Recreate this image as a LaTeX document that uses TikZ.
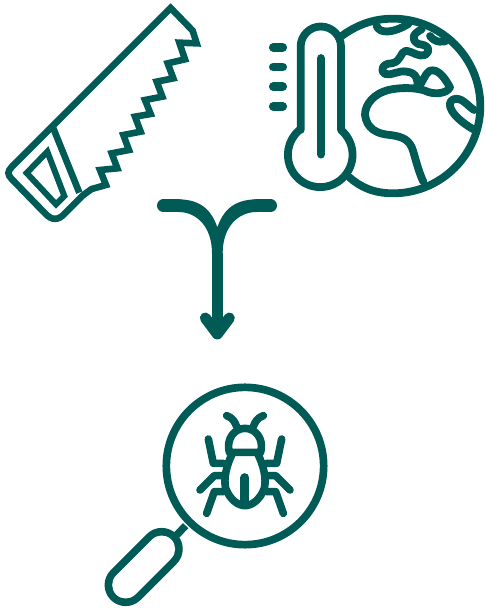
\documentclass[tikz,border=0pt]{standalone}
\definecolor{icon}{HTML}{005A55}
\tikzset{
  ink/.style={draw=icon,line cap=round,line join=round},
  saw/.style={ink,line width=6.6pt,line join=miter},
  thick7/.style={ink,line width=7.8pt},
  fine/.style={ink,line width=7.8pt},
  bug/.style={ink,line width=7.6pt},
}
\begin{document}
\begin{tikzpicture}[x=1pt,y=-1pt]
\useasboundingbox (0,0) rectangle (485,610);
% saw
\begin{scope}[x=.33333pt,y=-.33333pt]
\draw[saw,line join=miter,line cap=butt]
 (512,24) -- (578,92) -- (590,130) -- (538,128) -- (555,178) -- (503,190) -- (520,235) -- (470,245)
 -- (487,290) -- (435,300) -- (452,342) -- (405,350) -- (422,395) -- (370,405) -- (387,450) -- (335,460)
 -- (352,505) -- (300,510) -- (318,555) -- (275,567) -- (250,585)
 -- (195,640) .. controls (175,662) and (155,662) .. (135,640)
 -- (35,537) .. controls (22,523) and (22,515) .. (35,501) -- cycle;
\draw[saw,line cap=butt] (160,385) -- (238,578);
\draw[saw,line width=6pt,line join=miter] (142,455) -- (193,588) -- (168,613) -- (80,519) -- cycle;
\end{scope}
% globe and thermometer
\begin{scope}[x=.33333pt,y=-.33333pt,shift={(780,0)}]
\draw[thick7] (245,108) .. controls (290,75) and (340,56) .. (399,56)
 arc[start angle=-90,end angle=90,radius=262]
 .. controls (340,580) and (300,560) .. (268,532);
\draw[fine] (350,78) .. controls (358,100) and (395,102) .. (445,72);
\draw[fine] (485,88) .. controls (460,100) and (450,118) .. (475,132)
 .. controls (505,135) and (515,150) .. (495,165)
 .. controls (475,172) and (460,155) .. (438,152)
 .. controls (420,155) and (425,185) .. (395,190)
 .. controls (365,190) and (360,215) .. (375,222)
 .. controls (395,228) and (415,210) .. (440,215)
 .. controls (470,218) and (475,240) .. (472,262)
 .. controls (490,250) and (490,225) .. (510,212)
 .. controls (535,205) and (555,235) .. (570,262)
 .. controls (560,282) and (520,285) .. (495,272)
 .. controls (465,262) and (420,262) .. (385,270)
 .. controls (345,280) and (315,310) .. (315,345)
 .. controls (320,385) and (350,402) .. (390,405)
 .. controls (430,410) and (450,420) .. (460,455)
 .. controls (470,490) and (478,520) .. (490,545);
\draw[fine] (510,108) .. controls (525,128) and (550,130) .. (568,118);
\draw[fine] (642,330) .. controls (620,315) and (605,290) .. (580,298)
 .. controls (555,310) and (575,350) .. (640,388);
\fill[white] (183,462) circle[radius=97];
\fill[white] (122,140) rectangle (243,400);
\draw[thick7] (122,390) -- (122,140) arc[start angle=180,end angle=360,radius=60.5] -- (243,390)
 arc[start angle=-50,end angle=230,radius=97] -- cycle;
\draw[ink,line width=8.4pt] (183,175) -- (183,463);
\foreach \yy in {142,201,260,319} \draw[ink,line width=8.8pt] (40,\yy) -- (68,\yy);
\end{scope}
% merge arrow
\begin{scope}[x=.33333pt,y=-.33333pt,shift={(450,570)}]
\coordinate (la) at (40,47); \coordinate (ra) at (362,47); \coordinate (joint) at (202,190); \coordinate (tip) at (202,432);
\draw[ink,line width=12.67pt] (la) -- (85,47);
\draw[ink,line width=12.67pt] (ra) -- (320,47);
\fill[icon] (85,28) .. controls (160,28) and (188,70) .. (202,112) .. controls (216,70) and (245,28) .. (320,28)
 -- (320,66) .. controls (265,66) and (218,110) .. (218,190) -- (186,190) .. controls (186,110) and (140,66) .. (85,66) -- cycle;
\draw[ink,line width=10.6pt,line cap=butt] (joint) -- (tip);
\draw[ink,line width=11pt] (166,384) -- (tip) -- (238,384);
\end{scope}
% magnifier and beetle
\begin{scope}[x=.33333pt,y=-.33333pt,shift={(285,1125)}]
\draw[ink,line width=7.7pt] (450,273) circle[radius=236];
\draw[ink,line width=7.4pt,line cap=butt] (272,452) -- (245,480);
\draw[ink,line width=7.6pt,double=white,double distance=27pt] (200,522) -- (92,630);
\draw[bug] (395,122) .. controls (412,128) and (420,140) .. (425,155);
\draw[bug] (505,122) .. controls (488,128) and (480,140) .. (475,155);
\draw[bug] (403,232) .. controls (392,190) and (420,160) .. (450,160) .. controls (480,160) and (508,190) .. (497,232) -- cycle;
\draw[bug] (412,236) .. controls (395,270) and (385,310) .. (392,340) .. controls (405,375) and (430,392) .. (450,392)
 .. controls (470,392) and (495,375) .. (508,340) .. controls (515,310) and (505,270) .. (488,236);
\draw[ink,line width=9pt] (450,308) -- (450,382);
\draw[bug] (340,192) -- (355,265) -- (385,265);
\draw[bug] (560,192) -- (545,265) -- (515,265);
\draw[bug] (315,345) -- (358,302) -- (385,302);
\draw[bug] (585,345) -- (542,302) -- (515,302);
\draw[bug] (335,415) -- (358,350) -- (385,350);
\draw[bug] (565,415) -- (542,350) -- (515,350);
\end{scope}
\end{tikzpicture}
\end{document}
